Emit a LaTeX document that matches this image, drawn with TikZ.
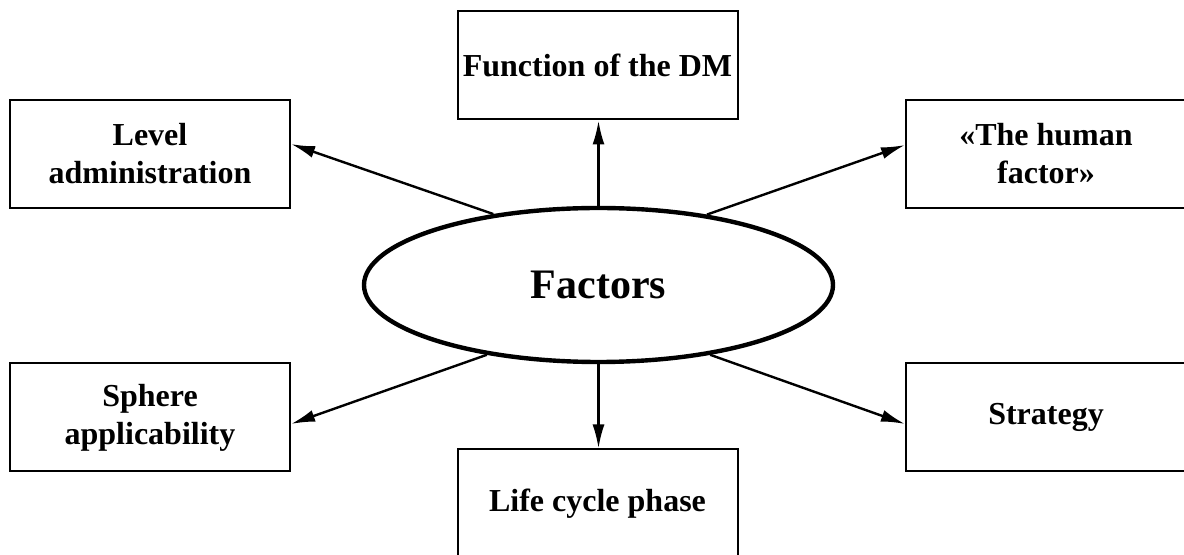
\documentclass[tikz,border=0pt]{standalone}
\usepackage{fontspec}
\setmainfont{Liberation Serif}
\usetikzlibrary{calc,arrows.meta,shapes.geometric}

\begin{document}
\begin{tikzpicture}[x=0.5pt,y=-0.5pt,
    factorbox/.style={draw=black, line width=1pt, minimum width=140pt,
      minimum height=54pt, inner sep=2pt, align=center,
      font=\fontsize{16}{19}\selectfont\bfseries},
    hub/.style={draw=black, ellipse, line width=2.2pt, minimum width=234.5pt,
      minimum height=77pt, inner sep=0pt,
      font=\fontsize{21}{25}\selectfont\bfseries},
    arr/.style={line width=1.2pt, -{Latex[length=12pt,width=6pt]}}]

  \useasboundingbox (0,0) rectangle (1184,555);

  % central ellipse
  \node[hub] (f) at (598.5,285) {Factors};

  % surrounding factor boxes
  \node[factorbox] (top)  at (597.5,65.5)  {Function of the DM};
  \node[factorbox] (lev)  at (150,154)     {Level\\administration};
  \node[factorbox] (hum)  at (1046,154)    {«The human\\factor»};
  \node[factorbox] (sph)  at (150,417.5)   {Sphere\\applicability};
  \node[factorbox] (str)  at (1046,417.5)  {Strategy};
  \node[factorbox] (life) at (597.5,503.5) {Life cycle phase};

  % connectors from the centre outwards
  \draw[arr] (f.north) -- (top.south -| f.north);
  \draw[arr] (f.south) -- (life.north -| f.south);
  \draw[arr] (f.146) -- ($(lev.east)+(0,-10)$);
  \draw[arr] (f.33)  -- ($(hum.west)+(0,-9)$);
  \draw[arr] (f.212) -- ($(sph.east)+(0,6.5)$);
  \draw[arr] (f.328) -- ($(str.west)+(0,6.5)$);
\end{tikzpicture}
\end{document}
